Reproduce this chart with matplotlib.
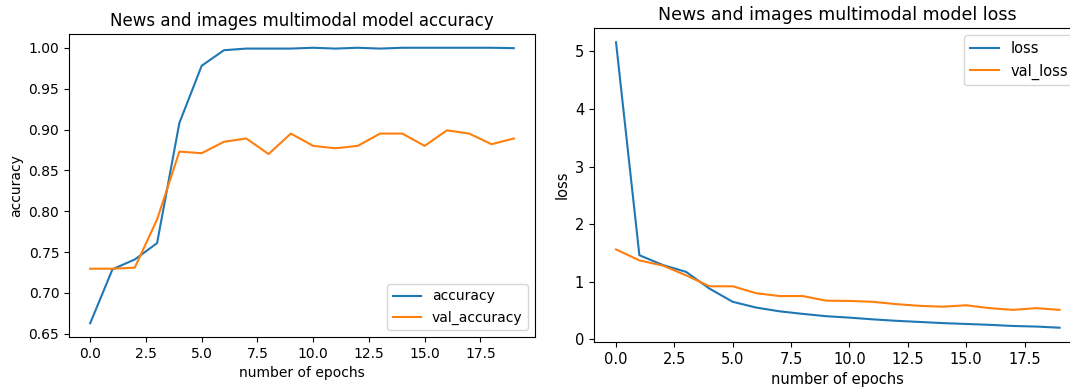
import matplotlib
matplotlib.use("Agg")
import matplotlib.pyplot as plt

epochs = list(range(20))

accuracy = [0.663, 0.729, 0.741, 0.761, 0.908, 0.978, 0.997, 0.999, 0.999, 0.999,
            1.000, 0.999, 1.000, 0.999, 1.000, 1.000, 1.000, 1.000, 1.000, 0.9995]
val_accuracy = [0.7297, 0.7297, 0.731, 0.790, 0.873, 0.871, 0.885, 0.889, 0.870, 0.895,
                0.880, 0.877, 0.880, 0.895, 0.895, 0.880, 0.899, 0.895, 0.882, 0.889]

loss = [5.16, 1.46, 1.29, 1.17, 0.88, 0.65, 0.55, 0.485, 0.44, 0.40,
        0.375, 0.345, 0.32, 0.30, 0.28, 0.265, 0.25, 0.23, 0.22, 0.20]
val_loss = [1.56, 1.37, 1.28, 1.11, 0.92, 0.92, 0.80, 0.75, 0.75, 0.67,
            0.665, 0.65, 0.61, 0.58, 0.565, 0.59, 0.54, 0.51, 0.54, 0.51]

fig = plt.figure(figsize=(10.7, 3.92), dpi=100)

# left: accuracy
ax1 = fig.add_axes([0.0645, 0.1403, 0.4355, 0.773])
ax1.plot(epochs, accuracy, label="accuracy")
ax1.plot(epochs, val_accuracy, label="val_accuracy")
ax1.set_title("News and images multimodal model accuracy", fontsize=12)
ax1.set_xlabel("number of epochs", fontsize=10)
ax1.set_ylabel("accuracy", fontsize=10)
ax1.tick_params(labelsize=10)
ax1.legend(loc="lower right", fontsize=10)

# right: loss (axes runs past the figure edge, as in the source)
ax2 = fig.add_axes([0.555, 0.1276, 0.456, 0.801])
ax2.plot(epochs, loss, label="loss")
ax2.plot(epochs, val_loss, label="val_loss")
ax2.set_title("News and images multimodal model loss", fontsize=12.5)
ax2.set_xlabel("number of epochs", fontsize=10.5)
ax2.set_ylabel("loss", fontsize=10.5)
ax2.tick_params(labelsize=10.5)
ax2.legend(loc="upper right", fontsize=10.5)

fig.savefig("out.png", dpi=100)
